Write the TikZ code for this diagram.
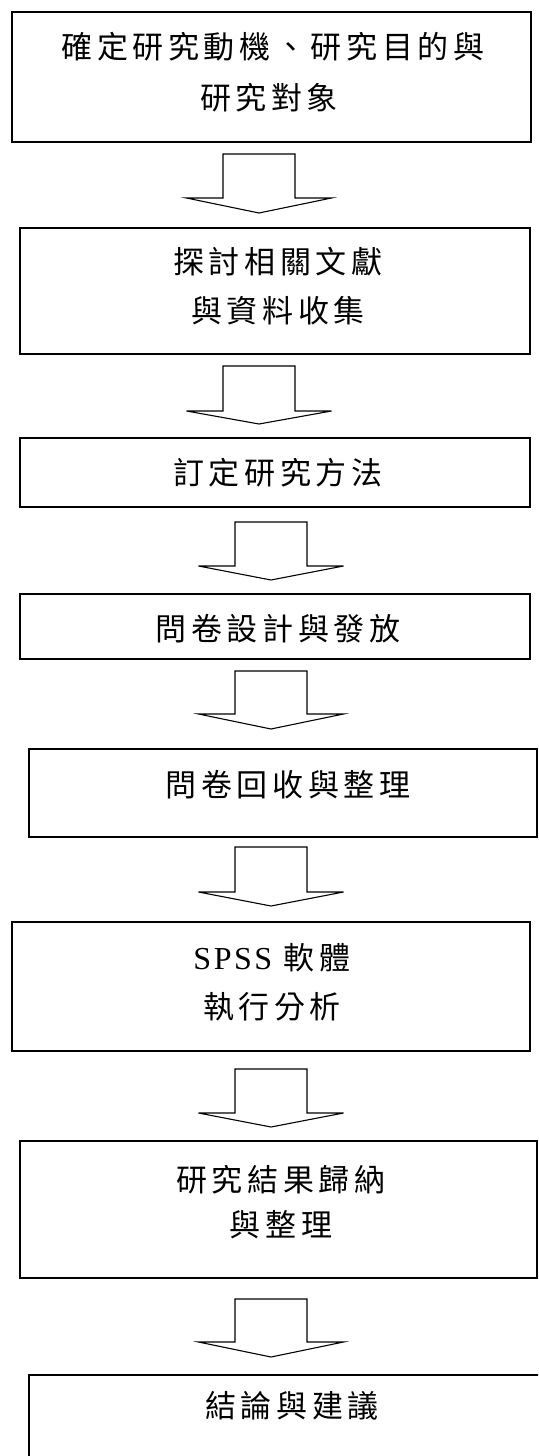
\documentclass[tikz,border=0pt]{standalone}
\usepackage{fontspec}
\setmainfont{Liberation Serif}[LetterSpace=8]
\newfontfamily\cjk{Noto Sans CJK TC}[LetterSpace=15]
\tikzset{
  box/.style={draw=black, line width=1.6pt, inner sep=0pt, outer sep=0pt, anchor=north west, fill=white},
  txt/.style={anchor=base, inner sep=0pt, font=\fontsize{31pt}{37pt}\selectfont\cjk},
  blk/.style={draw=black, line width=1.1pt, fill=white, line join=miter}
}
\newcommand{\blockarrow}[5]{% name, x center, top, shoulder, tip
  \coordinate (#1) at (#2,#5);
  \draw[blk] ($(#1)+(-36,#3-#5)$) -- ($(#1)+(-36,#4-#5)$) -- ($(#1)+(-72.5,#4-#5)$) -- (#1)
    -- ($(#1)+(72.5,#4-#5)$) -- ($(#1)+(36,#4-#5)$) -- ($(#1)+(36,#3-#5)$) -- cycle;
}
\usetikzlibrary{calc}
\begin{document}
\begin{tikzpicture}[x=1pt,y=-1pt]
\useasboundingbox (0,0) rectangle (538,1456);
\clip (0,0) rectangle (538,1456);
\fill[white] (0,0) rectangle (538,1456);

\node[box, minimum width=519pt, minimum height=130pt] (b1) at (12,12) {};
\node[txt] (t1a) at (273,58) {確定研究動機、研究目的與};
\node[txt] (t1b) at (269,109) {研究對象};

\blockarrow{a1}{259}{154}{198}{213}

\node[box, minimum width=510pt, minimum height=126pt] (b2) at (20,228) {};
\node[txt] (t2a) at (278,273) {探討相關文獻};
\node[txt] (t2b) at (278,322) {與資料收集};

\blockarrow{a2}{259}{366}{411}{424}

\node[box, minimum width=510pt, minimum height=69pt] (b3) at (20,438) {};
\node[txt] (t3) at (278,484) {訂定研究方法};

\blockarrow{a3}{271}{522}{566}{580}

\node[box, minimum width=510pt, minimum height=65pt] (b4) at (20,594) {};
\node[txt] (t4) at (278,640) {問卷設計與發放};

\blockarrow{a4}{271}{671}{714}{729}

\node[box, minimum width=508pt, minimum height=88pt] (b5) at (29,749) {};
\node[txt] (t5) at (288,796) {問卷回收與整理};

\blockarrow{a5}{271}{847}{892}{906}

\node[box, minimum width=518pt, minimum height=129pt] (b6) at (12,922) {};
\node[txt] (t6a) at (272,969) {{\rmfamily\fontsize{32pt}{37pt}\selectfont SPSS} 軟體};
\node[txt] (t6b) at (272,1018) {執行分析};

\blockarrow{a6}{271}{1069}{1113}{1127}

\node[box, minimum width=517pt, minimum height=137pt] (b7) at (20,1141) {};
\node[txt] (t7a) at (281,1191) {研究結果歸納};
\node[txt] (t7b) at (281,1236) {與整理};

\blockarrow{a7}{271}{1299}{1342}{1357}

\node[box, minimum width=520pt, minimum height=100pt] (b8) at (29,1375) {};
\node[txt] (t8) at (292,1417) {結論與建議};
\end{tikzpicture}
\end{document}
